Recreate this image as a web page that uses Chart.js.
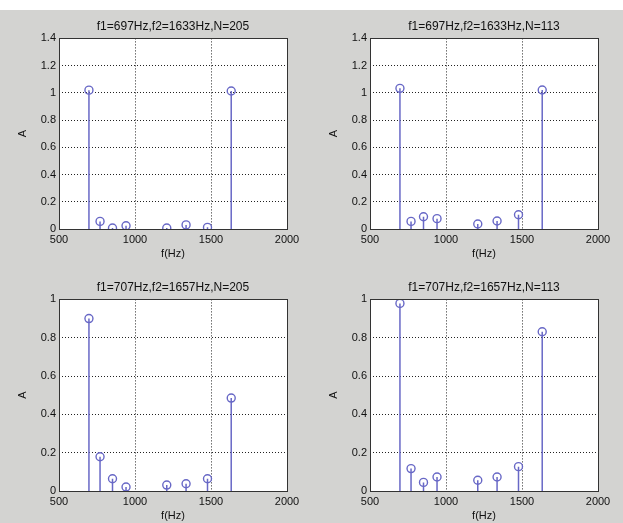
<!DOCTYPE html>
<html>
<head>
<meta charset="utf-8">
<script src="https://cdn.jsdelivr.net/npm/chart.js@4.4.0/dist/chart.umd.min.js"></script>
<style>
  html, body { margin: 0; padding: 0; }
  body { width: 623px; height: 523px; background: #d3d3d1; position: relative; overflow: hidden; }
  .topband { position: absolute; left: 0; top: 0; width: 623px; height: 10px; background: #fff; }
  .cell { position: absolute; width: 311px; }
</style>
</head>
<body>
<div class="topband"></div>
<div class="cell" style="left:0;top:0;height:261px"><canvas id="c1"></canvas></div>
<div class="cell" style="left:311px;top:0;height:261px"><canvas id="c2"></canvas></div>
<div class="cell" style="left:0;top:261px;height:262px"><canvas id="c3"></canvas></div>
<div class="cell" style="left:311px;top:261px;height:262px"><canvas id="c4"></canvas></div>
<script>
// DTMF detection spectra (stem plots)
const freqs = [697, 770, 852, 941, 1209, 1336, 1477, 1633];

const amp697_205 = [1.02, 0.056, 0.007, 0.024, 0.007, 0.03, 0.012, 1.014];
const amp697_113 = [1.033, 0.056, 0.09, 0.076, 0.037, 0.059, 0.105, 1.021];
const amp707_205 = [0.90, 0.179, 0.064, 0.021, 0.031, 0.038, 0.064, 0.485];
const amp707_113 = [0.979, 0.117, 0.045, 0.073, 0.056, 0.073, 0.127, 0.831];

const titles = [
  'f1=697Hz,f2=1633Hz,N=205',
  'f1=697Hz,f2=1633Hz,N=113',
  'f1=707Hz,f2=1657Hz,N=205',
  'f1=707Hz,f2=1657Hz,N=113'
];
const yMaxes = [1.4, 1.4, 1, 1];
const xTicks = [500, 1000, 1500, 2000];

const STEM = '#6868c6';
const FONT = 'Liberation Sans, Arial, sans-serif';
const DOTS = [1, 2];

const boxPlugin = {
  id: 'box',
  beforeDraw(chart) {
    const a = chart.chartArea, ctx = chart.ctx;
    ctx.save();
    ctx.fillStyle = '#fff';
    ctx.fillRect(a.left, a.top, a.right - a.left, a.bottom - a.top);
    ctx.restore();
  },
  afterDraw(chart) {
    const a = chart.chartArea, ctx = chart.ctx;
    ctx.save();
    ctx.strokeStyle = '#333';
    ctx.lineWidth = 1;
    ctx.strokeRect(Math.round(a.left) + 0.5, Math.round(a.top) + 0.5,
      Math.round(a.right - a.left), Math.round(a.bottom - a.top));
    ctx.restore();
  }
};

function stemPoints(vals) {
  const out = [];
  freqs.forEach((f, i) => {
    out.push({ x: f, y: 0 }, { x: f, y: vals[i] }, { x: f, y: null });
  });
  return out;
}

function makeChart(id, vals, title, yMax) {
  const ctx = document.getElementById(id);
  return new Chart(ctx, {
    type: 'line',
    data: {
      datasets: [
        { data: stemPoints(vals), borderColor: STEM, borderWidth: 1.5,
          pointRadius: 0, spanGaps: false, tension: 0, order: 2 },
        { data: freqs.map((f, i) => ({ x: f, y: vals[i] })), showLine: false,
          borderColor: STEM, backgroundColor: 'rgba(0,0,0,0)', borderWidth: 1.4,
          pointRadius: 4, pointStyle: 'circle', order: 1 }
      ]
    },
    options: {
      responsive: true, maintainAspectRatio: false, animation: false,
      layout: { padding: { left: 16, right: 24, top: 0, bottom: 0 } },
      plugins: {
        legend: { display: false },
        tooltip: { enabled: false },
        title: {
          display: true, text: title, color: '#111', fullSize: false,
          font: { family: FONT, size: 12, weight: 'normal' },
          padding: { top: 19, bottom: 5 }
        }
      },
      scales: {
        x: {
          type: 'linear', min: 500, max: 2000,
          afterBuildTicks: s => { s.ticks = xTicks.map(v => ({ value: v })); },
          afterFit: s => { s.height = 32; },
          ticks: { color: '#111', font: { family: FONT, size: 11 }, padding: 4, maxRotation: 0,
            callback: v => String(v) },
          grid: { color: '#222', lineWidth: 1, drawTicks: false, borderDash: DOTS },
          border: { display: false, dash: DOTS },
          title: { display: true, text: 'f(Hz)', color: '#111', padding: 0,
            font: { family: FONT, size: 11 } }
        },
        y: {
          type: 'linear', min: 0, max: yMax,
          ticks: { stepSize: 0.2, color: '#111', font: { family: FONT, size: 11 }, padding: 3,
            callback: v => String(+v.toFixed(2)) },
          afterFit: s => { s.width = 43; },
          grid: { color: '#222', lineWidth: 1, drawTicks: false, borderDash: DOTS },
          border: { display: false, dash: DOTS },
          title: { display: true, text: 'A', color: '#111', padding: 0,
            font: { family: FONT, size: 11 } }
        }
      }
    },
    plugins: [boxPlugin]
  });
}

makeChart('c1', amp697_205, titles[0], yMaxes[0]);
makeChart('c2', amp697_113, titles[1], yMaxes[1]);
makeChart('c3', amp707_205, titles[2], yMaxes[2]);
makeChart('c4', amp707_113, titles[3], yMaxes[3]);
</script>
</body>
</html>
